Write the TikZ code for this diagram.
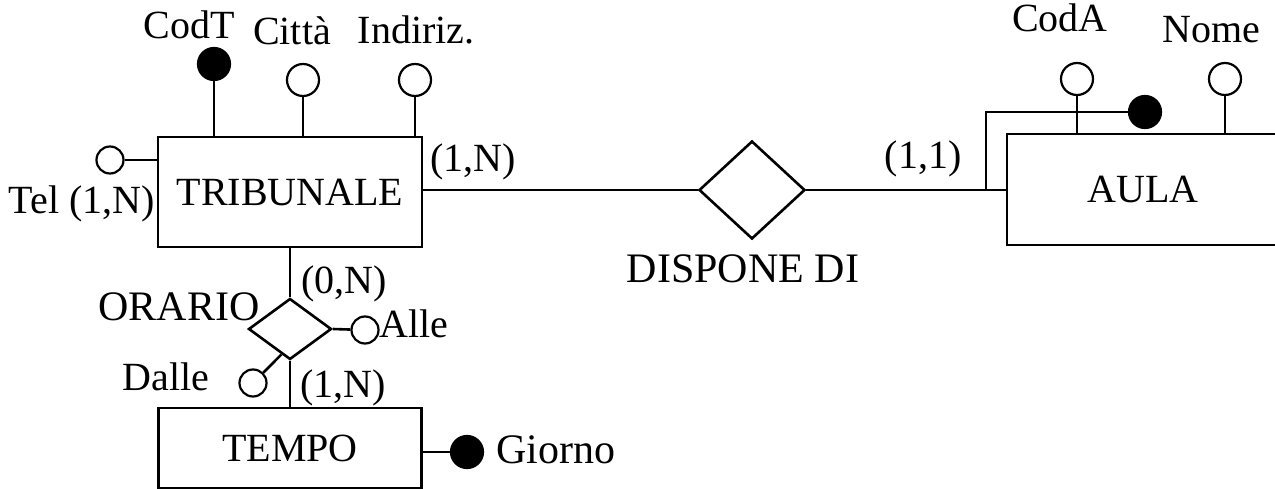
\documentclass[tikz,border=0pt]{standalone}
\usepackage{fontspec}
\setmainfont{Liberation Serif}
\usetikzlibrary{shapes.geometric,calc}
\begin{document}
\begin{tikzpicture}[x=1pt,y=-1pt,line width=2.6pt,
  every node/.style={font=\fontsize{40}{46}\selectfont},
  entity/.style={draw,rectangle,inner sep=0pt},
  relation/.style={draw,diamond,inner sep=0pt},
  attr/.style={draw,circle,minimum size=32pt,inner sep=0pt,line width=2.2pt},
  smallattr/.style={attr,minimum size=27pt},
  keyattr/.style={attr,fill=black},
  lbl/.style={anchor=base,inner sep=0pt},
  biglbl/.style={lbl,font=\fontsize{42}{48}\selectfont}]
\useasboundingbox (0,0) rectangle (1275,489);
% entities
\node[entity,minimum width=264pt,minimum height=110pt] (trib) at (290,192) {TRIBUNALE};
\node[entity,minimum width=272pt,minimum height=111pt] (aula) at (1143,189.5) {AULA};
\node[entity,minimum width=263pt,minimum height=80pt] (tempo) at (290,448) {TEMPO};
% relations
\node[relation,minimum width=106pt,minimum height=98pt] (disp) at (752,190) {};
\node[relation,minimum width=83pt,minimum height=61pt] (orario) at (290,329) {};
% attributes
\node[keyattr] (codT) at (214,64) {};
\node[attr] (citta) at (303,80) {};
\node[attr] (indir) at (415,80) {};
\node[smallattr] (tel) at (110,160) {};
\node[attr] (codA) at (1077,79) {};
\node[attr] (nome) at (1225,79) {};
\node[keyattr] (akey) at (1145,112) {};
\node[smallattr] (alle) at (365,330) {};
\node[smallattr] (dalle) at (253,383) {};
\node[keyattr] (giorno) at (467,452) {};
% connectors
\draw (codT) -- (codT |- trib.north);
\draw (citta) -- (citta |- trib.north);
\draw (indir) -- (indir |- trib.north);
\draw (tel) -- (tel -| trib.west);
\draw (disp.west) -- (disp.west -| trib.east);
\draw (disp.east) -- (disp.east -| aula.west);
\coordinate (k) at (986,190);
\draw (k) |- (akey);
\draw (codA) -- (codA |- aula.north);
\draw (nome) -- (nome |- aula.north);
\draw (trib.south) -- (orario.north);
\draw (orario.south) -- (tempo.north);
\draw (orario.east) -- (alle);
\draw (dalle) -- ($(orario.south)!0.2!(orario.west)$);
\draw (giorno) -- (giorno -| tempo.east);
% labels
\node[lbl] (lcodT) at (189,39) {CodT};
\node[lbl] (lcitta) at (292,45) {Città};
\node[lbl] (lindir) at (416,44) {Indiriz.};
\node[lbl] (ltel) at (82,214) {Tel (1,N)};
\node[lbl] (c1) at (473,172) {(1,N)};
\node[lbl] (c2) at (923,169) {(1,1)};
\node[biglbl] (ldisp) at (743,283) {DISPONE DI};
\node[lbl] (lcodA) at (1060,32) {CodA};
\node[lbl] (lnome) at (1211,43) {Nome};
\node[biglbl] (lorario) at (179,320) {ORARIO};
\node[lbl] (c3) at (344,294) {(0,N)};
\node[lbl] (c4) at (343,397) {(1,N)};
\node[lbl] (lalle) at (414,337) {Alle};
\node[lbl] (ldalle) at (166,390) {Dalle};
\node[biglbl,anchor=base west] (lgiorno) at (495,463) {Giorno};
\end{tikzpicture}
\end{document}
